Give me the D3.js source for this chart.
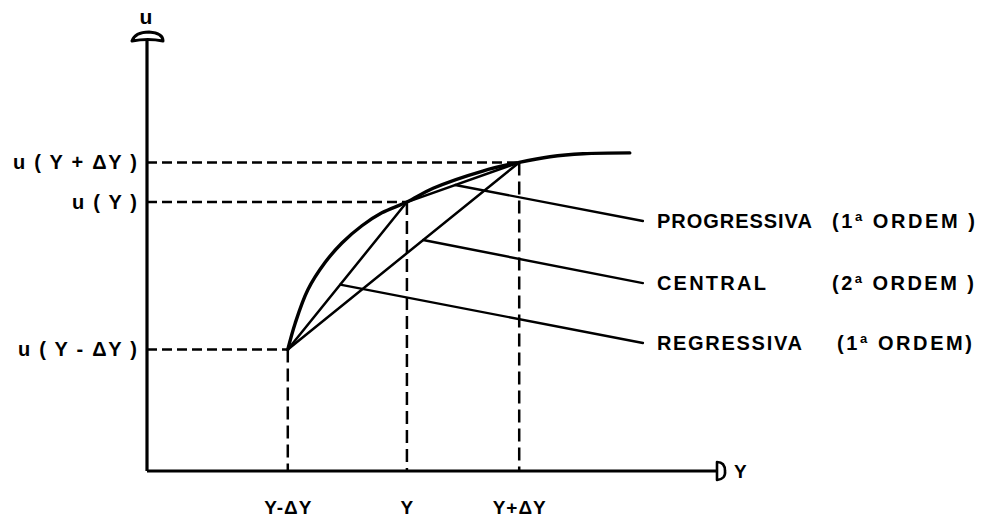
<!DOCTYPE html>
<html>
<head>
<meta charset="utf-8">
<script src="https://cdn.jsdelivr.net/npm/d3@7"></script>
<style>
  html, body { margin: 0; padding: 0; background: #fff; }
  svg { display: block; }
  text { font-family: "Liberation Sans", Arial, sans-serif; font-weight: bold; fill: #000; }
</style>
</head>
<body>
<svg id="chart" width="987" height="519"></svg>
<script>
// ---- data (in abstract axis units) ----
const xTickLabels = ["Y-ΔY", "Y", "Y+ΔY"];
const xTickValues = [2.47, 4.56, 6.53];
const uTickLabels = ["u ( Y - ΔY )", "u ( Y )", "u ( Y + ΔY )"];
const uTickValues = [2.82, 6.24, 7.16];
const labelWidths = [119, 65, 124];

// curve u(Y)
const curveX = [2.47, 2.60, 2.82, 3.12, 3.42, 3.77, 4.12, 4.56, 5.02, 5.89, 6.53, 7.07, 7.65, 8.47];
const curveU = [2.82, 3.43, 4.20, 4.83, 5.29, 5.69, 5.99, 6.24, 6.56, 6.96, 7.16, 7.29, 7.36, 7.38];

// finite difference schemes
const schemeNames = ["PROGRESSIVA", "CENTRAL", "REGRESSIVA"];
const schemeOrders = ["1", "2", "1"];
const chordFrom = [1, 0, 0];
const chordTo = [2, 2, 1];
const leaderT = [0.43, 0.585, 0.44];      // position along chord where leader starts
const leaderEndX = [8.70, 8.70, 8.70];
const leaderEndU = [5.80, 4.36, 2.97];
const nameWidths = [155, 109, 145];
const orderWidths = [143, 142, 135];

// ---- drawing ----
const svg = d3.select("#chart");
const x = d3.scaleLinear().domain([0, 10]).range([147, 717]);
const y = d3.scaleLinear().domain([0, 10]).range([471, 40]);

// dashed projection lines
const dash = svg.append("g").attr("stroke", "#000").attr("stroke-width", 2.5).attr("fill", "none");
xTickValues.forEach((xv, i) => {
  const uv = uTickValues[i];
  dash.append("line")
    .attr("x1", x(0)).attr("x2", x(xv)).attr("y1", y(uv)).attr("y2", y(uv))
    .attr("stroke-dasharray", "10,5");
  dash.append("line")
    .attr("x1", x(xv)).attr("x2", x(xv)).attr("y1", y(uv)).attr("y2", y(0))
    .attr("stroke-dasharray", "13,6");
});

// axes
const xAxis = d3.axisBottom(x)
  .tickValues(xTickValues)
  .tickFormat((d, i) => xTickLabels[i])
  .tickSize(0).tickSizeOuter(0).tickPadding(30);
const gx = svg.append("g").attr("transform", `translate(0,${y(0)})`).call(xAxis);
gx.select(".domain").attr("stroke-width", 3).attr("d", `M${x(0)},0H${x(10)}`);
gx.selectAll(".tick text").attr("font-size", 19).style("letter-spacing", "1px")
  .attr("font-family", null).attr("fill", null);

const yAxis = d3.axisLeft(y)
  .tickValues(uTickValues)
  .tickFormat((d, i) => uTickLabels[i])
  .tickSize(0).tickSizeOuter(0).tickPadding(10);
const gy = svg.append("g").attr("transform", `translate(${x(0)},0)`).call(yAxis);
gy.select(".domain").attr("stroke-width", 3.2).attr("d", `M0,${y(0)}V${y(10)}`);
gy.selectAll(".tick text").attr("font-size", 20)
  .attr("font-family", null).attr("fill", null)
  .attr("textLength", (d, i) => labelWidths[i]).attr("lengthAdjust", "spacing");
svg.selectAll(".tick line").remove();

// arrowheads
const ax = x(0), ay = y(10);
svg.append("path")
  .attr("d", `M${ax - 15},${ay + 1} Q${ax - 12},${ay - 8} ${ax + 2},${ay - 8} Q${ax + 16},${ay - 7} ${ax + 16},${ay + 1} Q${ax + 1},${ay - 2} ${ax - 15},${ay + 1} Z`)
  .attr("fill", "#fff").attr("stroke", "#000").attr("stroke-width", 3).attr("stroke-linejoin", "round");
const bx = x(10), by = y(0);
svg.append("path")
  .attr("d", `M${bx},${by - 9} L${bx},${by + 9} Q${bx + 9},${by + 8} ${bx + 8},${by} Q${bx + 8},${by - 9} ${bx},${by - 9} Z`)
  .attr("fill", "#fff").attr("stroke", "#000").attr("stroke-width", 2.6).attr("stroke-linejoin", "round");

svg.append("text").attr("x", ax - 1).attr("y", 24).attr("text-anchor", "middle")
  .attr("font-size", 21).text("u");
svg.append("text").attr("x", bx + 17).attr("y", by + 7)
  .attr("font-size", 19).text("Y");

// curve
const pts = curveX.map((d, i) => [d, curveU[i]]);
const line = d3.line().x(d => x(d[0])).y(d => y(d[1])).curve(d3.curveCatmullRom.alpha(0.5));
svg.append("path").attr("d", line(pts))
  .attr("fill", "none").attr("stroke", "#000").attr("stroke-width", 3.4).attr("stroke-linecap", "round");

// chords + leaders + labels
const P = xTickValues.map((d, i) => [d, uTickValues[i]]);
schemeNames.forEach((name, i) => {
  const a = P[chordFrom[i]], b = P[chordTo[i]];
  svg.append("line")
    .attr("x1", x(a[0])).attr("y1", y(a[1])).attr("x2", x(b[0])).attr("y2", y(b[1]))
    .attr("stroke", "#000").attr("stroke-width", 2.5).attr("stroke-linecap", "round");
  const t = leaderT[i];
  const sx = a[0] + (b[0] - a[0]) * t, su = a[1] + (b[1] - a[1]) * t;
  svg.append("line")
    .attr("x1", x(sx)).attr("y1", y(su)).attr("x2", x(leaderEndX[i])).attr("y2", y(leaderEndU[i]))
    .attr("stroke", "#000").attr("stroke-width", 2.4).attr("stroke-linecap", "round");
  const ty = y(leaderEndU[i]) + 7;
  svg.append("text").attr("x", x(leaderEndX[i]) + 14).attr("y", ty)
    .attr("font-size", 20).attr("textLength", nameWidths[i]).attr("lengthAdjust", "spacing")
    .text(name);
  const t2 = svg.append("text").attr("x", i === 2 ? 837 : 832).attr("y", ty)
    .attr("font-size", 20).attr("textLength", orderWidths[i]).attr("lengthAdjust", "spacing");
  t2.append("tspan").text("(" + schemeOrders[i]);
  t2.append("tspan").attr("font-size", 13).attr("dy", -7).text("a");
  t2.append("tspan").attr("dy", 7).text(i === 2 ? " ORDEM)" : " ORDEM )");
});
</script>
</body>
</html>
